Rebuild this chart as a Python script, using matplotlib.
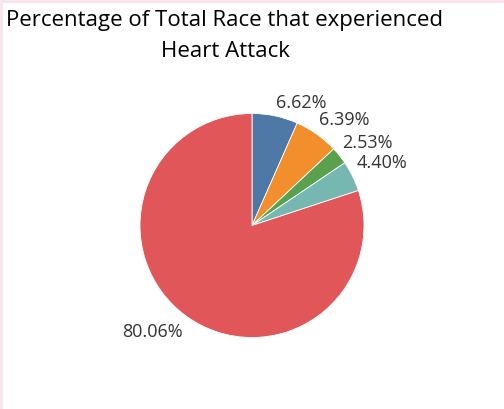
import numpy as np
import matplotlib.pyplot as plt
from matplotlib.lines import Line2D

# data
races = ["Race A", "Race B", "Race C", "Race D", "Race E"]
shares = [6.62, 6.39, 2.53, 4.40, 80.06]
colors = ["#4e79a7", "#f28e2b", "#59a14f", "#76b7b2", "#e15759"]

# label placement (angle nudge in degrees, distance in radii)
label_nudge = [-10, -6, -3, -0.5, -7]
label_dist = [1.18, 1.25, 1.27, 1.29, 1.30]

plt.rcParams['font.family'] = ['Open Sans', 'DejaVu Sans']

fig = plt.figure(figsize=(5.04, 4.09), dpi=100)
W, H = 504, 409
cx, cy, r = 252, 409 - 225.5, 112
ax = fig.add_axes([(cx - r) / W, (cy - r) / H, 2 * r / W, 2 * r / H])

wedges, _ = ax.pie(shares, colors=colors, startangle=90, counterclock=False,
                   radius=1, wedgeprops=dict(edgecolor='white', linewidth=0.6))
ax.set_xlim(-1, 1)
ax.set_ylim(-1, 1)
ax.set_aspect('equal')
ax.axis('off')

for w, val, nd, dist in zip(wedges, shares, label_nudge, label_dist):
    mid = np.deg2rad((w.theta1 + w.theta2) / 2 + nd)
    ax.text(dist * np.cos(mid), dist * np.sin(mid), "%.2f%%" % val,
            ha='center', va='center', fontsize=13, color='#333333', clip_on=False)

fig.text(225 / W, 1 - 10 / H, "Percentage of Total Race that experienced\nHeart Attack",
         ha='center', va='top', multialignment='center', fontsize=16,
         color='black', linespacing=1.6)

# faint pink frame on the left and top edges
fig.add_artist(Line2D([0.002, 0.002], [0, 1], transform=fig.transFigure, color='#fbe3ea', lw=2))
fig.add_artist(Line2D([0, 1], [0.997, 0.997], transform=fig.transFigure, color='#fbe3ea', lw=2))

fig.savefig("out.png", dpi=100)
